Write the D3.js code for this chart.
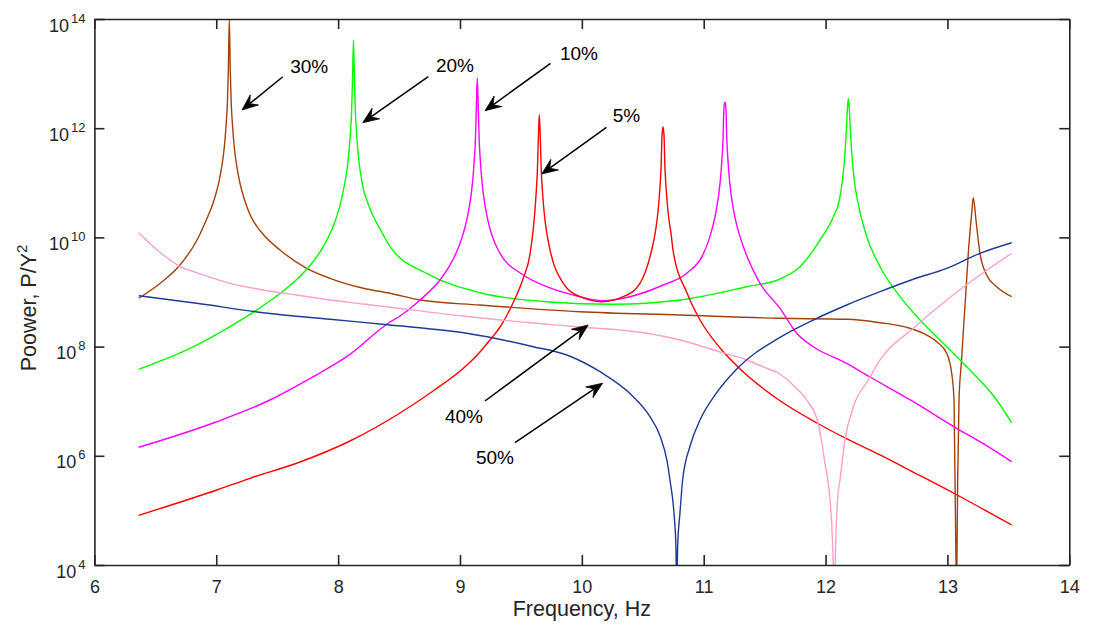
<!DOCTYPE html>
<html>
<head>
<meta charset="utf-8">
<script src="https://cdn.jsdelivr.net/npm/d3@7"></script>
<style>
  html, body { margin: 0; padding: 0; background: #ffffff; }
  svg { display: block; }
  text { font-family: "Liberation Sans", Arial, Helvetica, sans-serif; fill: #262626; }
</style>
</head>
<body>
<svg id="chart" width="1093" height="630"></svg>
<script>
// ---------- data: [frequency (Hz), log10(power)] ----------
const xTicks = [6, 7, 8, 9, 10, 11, 12, 13, 14];
const yTicks = [1e4, 1e6, 1e8, 1e10, 1e12, 1e14];

const series5 = [[6.364,4.910],[7.004,5.374],[7.277,5.588],[7.687,5.886],[8.097,6.271],[8.508,6.784],[8.779,7.187],[9.058,7.663],[9.164,7.901],[9.246,8.121],[9.329,8.359],[9.435,8.799],[9.517,9.238],[9.575,9.696],[9.602,10.172],[9.618,10.575],[9.626,10.850],[9.635,11.216],[9.643,11.821],[9.651,12.242],[9.659,11.826],[9.667,11.224],[9.676,10.872],[9.684,10.622],[9.700,10.270],[9.717,10.020],[9.739,9.769],[9.848,9.159],[9.985,8.914],[10.163,8.822],[10.340,8.914],[10.477,9.159],[10.573,9.769],[10.601,10.070],[10.617,10.319],[10.633,10.672],[10.641,10.921],[10.650,11.273],[10.658,11.875],[10.666,12.022],[10.674,11.875],[10.682,11.273],[10.691,10.921],[10.699,10.672],[10.715,10.319],[10.732,10.070],[10.748,9.769],[10.863,8.982],[10.970,8.487],[11.134,7.974],[11.273,7.645],[11.626,7.009],[11.930,6.601],[12.176,6.308],[12.447,6.015],[12.718,5.703],[13.079,5.282],[13.527,4.733]];

const series10 = [[6.364,6.156],[7.004,6.624],[7.441,7.022],[7.796,7.449],[8.070,7.815],[8.426,8.450],[8.508,8.560],[8.672,8.853],[8.836,9.220],[8.912,9.469],[8.961,9.678],[9.002,9.902],[9.035,10.135],[9.060,10.363],[9.076,10.557],[9.093,10.807],[9.109,11.159],[9.117,11.409],[9.126,11.761],[9.134,12.363],[9.142,12.914],[9.150,12.363],[9.158,11.761],[9.167,11.409],[9.175,11.159],[9.191,10.807],[9.208,10.557],[9.224,10.363],[9.249,10.135],[9.282,9.920],[9.323,9.730],[9.520,9.311],[9.712,9.097],[9.985,8.914],[10.163,8.841],[10.395,8.914],[10.668,9.128],[10.861,9.342],[10.994,9.685],[11.035,9.909],[11.067,10.142],[11.092,10.370],[11.108,10.564],[11.125,10.814],[11.141,11.166],[11.149,11.416],[11.158,11.768],[11.166,12.370],[11.174,12.480],[11.182,12.370],[11.190,11.768],[11.199,11.416],[11.207,11.166],[11.223,10.814],[11.240,10.564],[11.256,10.370],[11.281,10.142],[11.313,9.909],[11.354,9.660],[11.462,9.159],[11.626,8.700],[11.763,8.244],[11.899,7.998],[12.173,7.694],[12.365,7.443],[12.720,6.991],[13.076,6.504],[13.267,6.258],[13.527,5.892]];

const series20 = [[6.364,7.584],[6.565,7.755],[6.839,8.029],[7.113,8.364],[7.386,8.753],[7.550,9.018],[7.742,9.416],[7.878,9.830],[7.988,10.379],[8.019,10.620],[8.044,10.874],[8.060,11.068],[8.077,11.318],[8.093,11.670],[8.101,11.920],[8.110,12.272],[8.118,12.874],[8.126,13.615],[8.134,12.874],[8.142,12.272],[8.151,11.920],[8.159,11.670],[8.175,11.318],[8.192,11.068],[8.208,10.874],[8.233,10.700],[8.262,10.520],[8.344,10.154],[8.426,9.830],[8.754,9.311],[9.164,8.987],[9.712,8.822],[10.258,8.775],[10.806,8.853],[11.353,9.097],[11.626,9.238],[11.790,9.463],[11.954,9.952],[12.064,10.379],[12.113,10.685],[12.138,11.037],[12.154,11.389],[12.162,11.639],[12.171,11.991],[12.179,12.350],[12.187,12.550],[12.195,12.350],[12.203,11.991],[12.212,11.639],[12.220,11.389],[12.236,11.037],[12.261,10.685],[12.338,10.013],[12.447,9.463],[12.611,8.914],[12.775,8.487],[12.939,8.121],[13.130,7.694],[13.404,7.022],[13.527,6.601]];

const series30 = [[6.364,8.885],[6.563,9.201],[6.702,9.495],[6.842,9.952],[6.927,10.366],[6.968,10.590],[7.000,10.823],[7.025,11.051],[7.041,11.245],[7.058,11.495],[7.074,11.847],[7.082,12.097],[7.091,12.449],[7.099,13.051],[7.107,14.000],[7.115,13.051],[7.123,12.449],[7.132,12.097],[7.140,11.847],[7.156,11.495],[7.173,11.245],[7.189,11.051],[7.214,10.823],[7.247,10.590],[7.288,10.366],[7.337,10.190],[7.386,10.053],[7.523,9.769],[7.742,9.434],[7.933,9.251],[8.207,9.068],[8.426,8.976],[8.672,8.853],[9.164,8.762],[9.985,8.639],[10.806,8.579],[11.627,8.518],[12.173,8.500],[12.447,8.438],[12.666,8.353],[12.802,8.244],[12.912,8.090],[12.994,7.877],[13.035,7.511],[13.054,7.022],[13.062,5.557],[13.070,4.092],[13.074,3.300],[13.078,4.092],[13.084,5.557],[13.095,7.022],[13.116,7.755],[13.131,8.304],[13.147,8.853],[13.173,9.769],[13.199,10.441],[13.212,10.727],[13.234,10.319],[13.267,9.709],[13.322,9.311],[13.404,9.097],[13.527,8.914]];

const series40 = [[6.364,10.086],[6.565,9.678],[6.697,9.476],[6.839,9.354],[7.113,9.159],[7.386,9.037],[7.660,8.945],[7.933,8.853],[8.207,8.780],[8.426,8.720],[9.055,8.551],[9.602,8.432],[9.985,8.359],[10.532,8.244],[10.806,8.121],[11.079,7.938],[11.353,7.755],[11.511,7.608],[11.626,7.498],[11.733,7.297],[11.845,7.022],[11.940,6.595],[11.967,6.271],[11.995,5.863],[12.023,5.483],[12.037,5.190],[12.055,4.531],[12.064,3.930],[12.072,3.360],[12.080,4.147],[12.088,4.751],[12.100,5.245],[12.118,5.557],[12.159,6.289],[12.228,6.899],[12.351,7.388],[12.447,7.755],[12.720,8.335],[12.994,8.853],[13.267,9.311],[13.527,9.709]];

const series50 = [[6.364,8.932],[6.839,8.793],[7.386,8.621],[7.933,8.500],[8.426,8.396],[9.055,8.244],[9.602,7.998],[9.876,7.846],[10.149,7.540],[10.422,7.082],[10.559,6.716],[10.642,6.363],[10.699,5.905],[10.723,5.557],[10.756,4.947],[10.772,4.335],[10.779,3.500],[10.786,4.335],[10.805,4.947],[10.827,5.557],[10.888,6.180],[10.970,6.656],[11.093,7.114],[11.271,7.590],[11.626,8.170],[11.899,8.487],[12.173,8.762],[12.447,9.006],[12.720,9.233],[12.994,9.434],[13.267,9.709],[13.527,9.903]];

const seriesNames = ["5%", "10%", "20%", "30%", "40%", "50%"];
const seriesColors = ["#ff0000", "#ff00ff", "#00ff00", "#a3410c", "#ffa0c8", "#1f3a94"];
const seriesData = [series5, series10, series20, series30, series40, series50];
const drawOrder = [3, 2, 1, 0, 4, 5];

// annotation arrows: label, tail (f, log10P), tip (f, log10P), label anchor (f, log10P)
const arrowLabels = ["30%", "20%", "10%", "5%", "40%", "50%"];
const arrowTailF = [7.546, 8.740, 9.743, 10.202, 9.205, 9.451];
const arrowTailL = [12.943, 12.943, 13.189, 12.016, 7.004, 6.240];
const arrowTipF = [7.211, 8.202, 9.205, 9.670, 10.052, 10.170];
const arrowTipL = [12.333, 12.101, 12.321, 11.161, 8.396, 7.328];
const labelF = [7.607, 8.803, 9.820, 10.254, 8.877, 9.131];
const labelL = [13.010, 13.030, 13.250, 12.113, 6.601, 5.850];

// ---------- layout ----------
const svg = d3.select("#chart");
const xScale = d3.scaleLinear().domain([6, 14]).range([94.4, 1069.3]);
const yScale = d3.scaleLog().domain([1e4, 1e14]).range([565, 19]);
const axisColor = "#262626";
const fontFam = '"Liberation Sans", Arial, Helvetica, sans-serif';

svg.append("defs").append("clipPath").attr("id", "plotClip")
  .append("rect")
  .attr("x", xScale(6)).attr("y", yScale(1e14))
  .attr("width", xScale(14) - xScale(6)).attr("height", yScale(1e4) - yScale(1e14));

// curves
const lineGen = d3.line()
  .x(d => xScale(d[0]))
  .y(d => yScale(Math.pow(10, d[1])))
  .curve(d3.curveMonotoneX);

const curveG = svg.append("g").attr("clip-path", "url(#plotClip)");
drawOrder.forEach(i => {
  curveG.append("path")
    .datum(seriesData[i])
    .attr("d", lineGen)
    .attr("fill", "none")
    .attr("stroke", seriesColors[i])
    .attr("stroke-width", 1.4)
    .attr("stroke-linejoin", "round");
});

// axes (ticks pointing inward, full box)
function styleAxis(g) {
  g.selectAll("path.domain").attr("stroke", axisColor).attr("stroke-width", 1.6);
  g.selectAll(".tick line").attr("stroke", axisColor).attr("stroke-width", 1.6);
}
const axisBottomG = svg.append("g").attr("transform", `translate(0,${yScale(1e4)})`)
  .call(d3.axisBottom(xScale).tickValues(xTicks).tickSizeInner(-10).tickSizeOuter(0).tickPadding(15).tickFormat(d3.format("d")));
styleAxis(axisBottomG);
axisBottomG.selectAll(".tick text").attr("font-size", 18).attr("fill", axisColor).style("font-family", fontFam);

const axisTopG = svg.append("g").attr("transform", `translate(0,${yScale(1e14)})`)
  .call(d3.axisTop(xScale).tickValues(xTicks).tickSizeInner(-10).tickSizeOuter(0).tickFormat(() => ""));
styleAxis(axisTopG);

const axisRightG = svg.append("g").attr("transform", `translate(${xScale(14)},0)`)
  .call(d3.axisRight(yScale).tickValues(yTicks).tickSizeInner(-10).tickSizeOuter(0).tickFormat(() => ""));
styleAxis(axisRightG);

const axisLeftG = svg.append("g").attr("transform", `translate(${xScale(6)},0)`)
  .call(d3.axisLeft(yScale).tickValues(yTicks).tickSizeInner(-10).tickSizeOuter(0).tickPadding(9).tickFormat(() => ""));
styleAxis(axisLeftG);
axisLeftG.selectAll(".tick text").each(function(d) {
  const t = d3.select(this);
  t.attr("dy", null).attr("y", 12).attr("x", -9).attr("text-anchor", "end")
   .attr("font-size", 18).attr("fill", axisColor).style("font-family", fontFam);
  t.text(null);
  t.append("tspan").text("10");
  t.append("tspan").attr("dy", -9).attr("dx", 2).attr("font-size", 13).text(Math.round(Math.log10(d)));
});

// axis labels
svg.append("text")
  .attr("x", (xScale(6) + xScale(14)) / 2).attr("y", 616)
  .attr("text-anchor", "middle").attr("font-size", 21.5)
  .text("Frequency, Hz");

const yl = svg.append("text")
  .attr("transform", `translate(36,308) rotate(-90)`)
  .attr("text-anchor", "middle").attr("font-size", 21.5);
yl.append("tspan").text("Poower, P/Y");
yl.append("tspan").attr("dy", -9).attr("font-size", 15).text("2");

// annotations
const ann = svg.append("g");
arrowLabels.forEach((lab, i) => {
  const tx = xScale(arrowTailF[i]), ty = yScale(Math.pow(10, arrowTailL[i]));
  const px = xScale(arrowTipF[i]), py = yScale(Math.pow(10, arrowTipL[i]));
  const len = Math.hypot(px - tx, py - ty);
  const ux = (px - tx) / len, uy = (py - ty) / len;
  const nx = -uy, ny = ux;
  const hl = 16, hw = 6.5, notch = 10;
  ann.append("line")
    .attr("x1", tx).attr("y1", ty)
    .attr("x2", px - ux * notch).attr("y2", py - uy * notch)
    .attr("stroke", "#000").attr("stroke-width", 1.5);
  const head = [
    [px, py],
    [px - ux * hl + nx * hw, py - uy * hl + ny * hw],
    [px - ux * notch, py - uy * notch],
    [px - ux * hl - nx * hw, py - uy * hl - ny * hw]
  ];
  ann.append("path")
    .attr("d", "M" + head.map(p => p.join(",")).join("L") + "Z")
    .attr("fill", "#000").attr("stroke", "#000").attr("stroke-width", 0.8);
  ann.append("text")
    .attr("x", xScale(labelF[i])).attr("y", yScale(Math.pow(10, labelL[i])))
    .attr("font-size", 19).style("fill", "#000")
    .text(lab);
});
</script>
</body>
</html>
